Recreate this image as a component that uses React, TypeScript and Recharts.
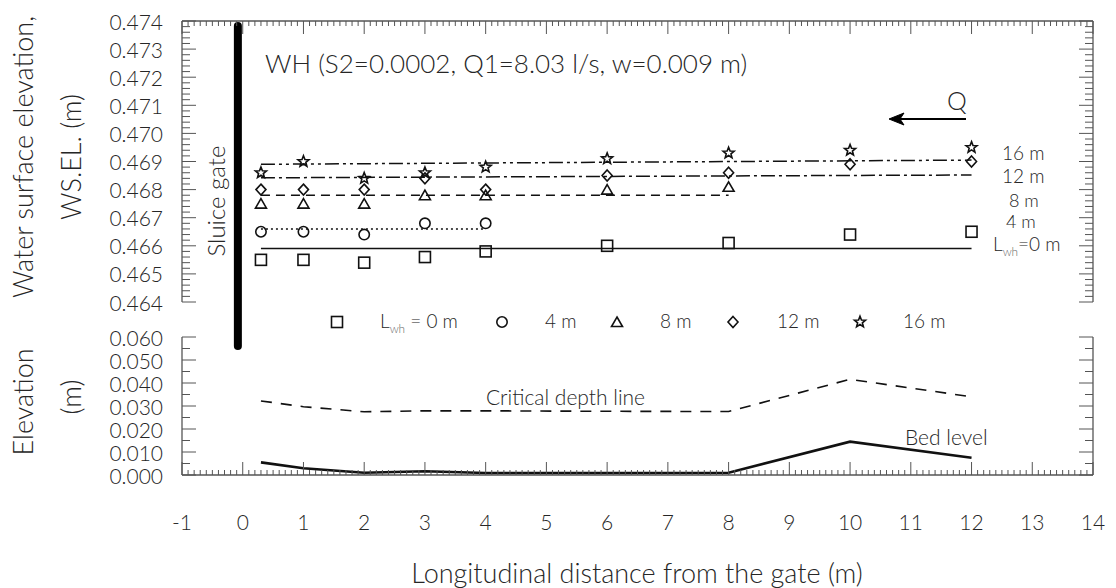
import React from "react";
import { ComposedChart, Scatter, Line, XAxis, YAxis, ReferenceLine } from "recharts";

// stations along the channel (m from the gate)
const stations = [0.3, 1, 2, 3, 4, 6, 8, 10, 12];

// water surface elevation (m) for each Lwh
const wsL0 = [0.4655, 0.4655, 0.4654, 0.4656, 0.4658, 0.466, 0.4661, 0.4664, 0.4665];
const ws4 = [0.4665, 0.4665, 0.4664, 0.4668, 0.4668];
const ws8 = [0.4675, 0.4675, 0.4675, 0.4678, 0.4678, 0.468, 0.4681];
const ws12 = [0.468, 0.468, 0.468, 0.4684, 0.468, 0.4685, 0.4686, 0.4689, 0.469];
const ws16 = [0.4686, 0.469, 0.4684, 0.4686, 0.4688, 0.4691, 0.4693, 0.4694, 0.4695];

// average lines (start / end)
const fitX = [0.3, 12];
const fitX4 = [0.3, 4];
const fitX8 = [0.3, 8];
const fitL0 = [0.4659, 0.4659];
const fit4 = [0.4666, 0.4666];
const fit8 = [0.4678, 0.4678];
const fit12 = [0.46842, 0.46852];
const fit16 = [0.4689, 0.46905];

// lower panel (m)
const criticalDepth = [0.0322, 0.0297, 0.0275, 0.0279, 0.0279, 0.0277, 0.0276, 0.0416, 0.034];
const bedLevel = [0.0055, 0.0029, 0.001, 0.0016, 0.0009, 0.0009, 0.001, 0.0145, 0.0075];

// sluice gate position
const gateX = -0.08;
const gateTop = 0.47382;
const gateBottom = 0.46243;

const xDomain: [number, number] = [-1, 14];
const wsDomain: [number, number] = [0.464, 0.474];
const elDomain: [number, number] = [0, 0.06];

const xTicks = Array.from({ length: 151 }, (_, i) => Math.round((-1 + i * 0.1) * 10) / 10);
const wsTicks = Array.from({ length: 51 }, (_, i) => Math.round((0.464 + i * 0.0002) * 1e4) / 1e4);
const elTicks = Array.from({ length: 13 }, (_, i) => Math.round(i * 5) / 1000);

const W = 1116;
const H = 588;
const PLOT_L = 182;
const PLOT_R = 1093;
const TOP_T = 21;
const TOP_B = 302;
const BOT_T = 337;
const BOT_B = 475;

const AXIS = "#555";
const INK = "#111";
const TEXT = "#262626";
const FONT = "Lato, 'Open Sans', sans-serif";
const WEIGHT = 300;

const pts = (xs: number[], ys: number[]) => ys.map((y, i) => ({ x: xs[i], y }));

type Kind = "square" | "circle" | "triangle" | "diamond" | "star";

function Marker({ kind, cx, cy }: { kind: Kind; cx: number; cy: number }) {
  const p = { fill: "none", stroke: INK, strokeWidth: 1.6 };
  if (kind === "square") return <rect x={cx - 5.5} y={cy - 5.5} width={11} height={11} {...p} />;
  if (kind === "circle") return <circle cx={cx} cy={cy} r={5.2} {...p} />;
  if (kind === "triangle")
    return <path d={`M${cx},${cy - 5} L${cx + 5.5},${cy + 4.5} L${cx - 5.5},${cy + 4.5} Z`} {...p} />;
  if (kind === "diamond")
    return <path d={`M${cx},${cy - 5.5} L${cx + 5},${cy} L${cx},${cy + 5.5} L${cx - 5},${cy} Z`} {...p} />;
  let d = "";
  for (let i = 0; i < 10; i++) {
    const r = i % 2 === 0 ? 5.8 : 2.5;
    const a = -Math.PI / 2 + (i * Math.PI) / 5;
    d += `${i === 0 ? "M" : "L"}${cx + r * Math.cos(a)},${cy + r * Math.sin(a)} `;
  }
  return <path d={d + "Z"} {...p} />;
}

const series: { kind: Kind; ys: number[] }[] = [
  { kind: "square", ys: wsL0 },
  { kind: "circle", ys: ws4 },
  { kind: "triangle", ys: ws8 },
  { kind: "diamond", ys: ws12 },
  { kind: "star", ys: ws16 },
];

const tickText = { fontSize: 21, fill: TEXT, fontFamily: FONT, fontWeight: WEIGHT };

function XTopTick(props: any) {
  const { x, y, payload } = props;
  const major = Math.round(payload.value * 10) % 10 === 0;
  return <line x1={x} y1={y} x2={x} y2={y + (major ? 13 : 5)} stroke={AXIS} />;
}

function XBottomTick(props: any) {
  const { x, y, payload } = props;
  const major = Math.round(payload.value * 10) % 10 === 0;
  return (
    <g>
      <line x1={x} y1={y} x2={x} y2={y - (major ? 13 : 5)} stroke={AXIS} />
      {major && (
        <text x={x} y={y + 46} textAnchor="middle" dominantBaseline="central" {...tickText}>
          {Math.round(payload.value)}
        </text>
      )}
    </g>
  );
}

function makeYTick(side: "l" | "r", step: number, label: boolean) {
  return (props: any) => {
    const { x, y, payload } = props;
    const major = Math.round(payload.value / step) % 10 === 0;
    const len = major ? 14 : 8;
    const dir = side === "l" ? 1 : -1;
    return (
      <g>
        <line x1={x} y1={y} x2={x + dir * len} y2={y} stroke={AXIS} />
        {label && major && (
          <text x={x - 19} y={y} textAnchor="end" dominantBaseline="central" {...tickText}>
            {payload.value.toFixed(3)}
          </text>
        )}
      </g>
    );
  };
}

const axisLine = { stroke: AXIS, strokeWidth: 1.3 };

function TopPanel() {
  const fits = [
    { xs: fitX, ys: fitL0, dash: undefined },
    { xs: fitX4, ys: fit4, dash: "2 3" },
    { xs: fitX8, ys: fit8, dash: "9 6" },
    { xs: fitX, ys: fit12, dash: "14 4 3 4" },
    { xs: fitX, ys: fit16, dash: "14 4 3 4 3 4" },
  ];
  return (
    <ComposedChart width={W} height={H} margin={{ top: 0, left: 0, right: 0, bottom: H - TOP_B }}>
      <XAxis
        xAxisId="t"
        orientation="top"
        type="number"
        dataKey="x"
        domain={xDomain}
        ticks={xTicks}
        interval={0}
        height={TOP_T}
        tickSize={0}
        tickMargin={0}
        tickLine={false}
        tick={XTopTick}
        axisLine={axisLine}
        allowDataOverflow
      />
      <YAxis
        yAxisId="l"
        type="number"
        domain={wsDomain}
        ticks={wsTicks}
        interval={0}
        width={PLOT_L}
        tickSize={0}
        tickMargin={0}
        tickLine={false}
        tick={makeYTick("l", 0.0001, true)}
        axisLine={axisLine}
        allowDataOverflow
      />
      <YAxis
        yAxisId="r"
        orientation="right"
        type="number"
        domain={wsDomain}
        ticks={wsTicks}
        interval={0}
        width={W - PLOT_R}
        tickSize={0}
        tickMargin={0}
        tickLine={false}
        tick={makeYTick("r", 0.0001, false)}
        axisLine={axisLine}
        allowDataOverflow
      />
      {fits.map((f, i) => (
        <Line
          key={"f" + i}
          xAxisId="t"
          yAxisId="l"
          data={pts(f.xs, f.ys)}
          dataKey="y"
          stroke={INK}
          strokeWidth={1.5}
          strokeDasharray={f.dash}
          dot={false}
          activeDot={false}
          isAnimationActive={false}
        />
      ))}
      {series.map((s) => (
        <Scatter
          key={s.kind}
          xAxisId="t"
          yAxisId="l"
          data={pts(stations, s.ys)}
          dataKey="y"
          isAnimationActive={false}
          shape={(p: any) => <Marker kind={s.kind} cx={p.cx} cy={p.cy} />}
        />
      ))}
      <ReferenceLine
        xAxisId="t"
        yAxisId="l"
        segment={[
          { x: gateX, y: gateTop },
          { x: gateX, y: gateBottom },
        ]}
        stroke="#000"
        strokeWidth={8}
        strokeLinecap="round"
        ifOverflow="visible"
      />
    </ComposedChart>
  );
}

function BottomPanel() {
  return (
    <ComposedChart width={W} height={H} margin={{ top: BOT_T, left: 0, right: 0, bottom: 0 }}>
      <XAxis
        type="number"
        dataKey="x"
        domain={xDomain}
        ticks={xTicks}
        interval={0}
        height={H - BOT_B}
        tickSize={0}
        tickMargin={0}
        tickLine={false}
        tick={XBottomTick}
        axisLine={axisLine}
        allowDataOverflow
      />
      <YAxis
        yAxisId="l"
        type="number"
        domain={elDomain}
        ticks={elTicks}
        interval={0}
        width={PLOT_L}
        tickSize={0}
        tickMargin={0}
        tickLine={false}
        tick={makeYTick("l", 0.001, true)}
        axisLine={axisLine}
        allowDataOverflow
      />
      <YAxis
        yAxisId="r"
        orientation="right"
        type="number"
        domain={elDomain}
        ticks={elTicks}
        interval={0}
        width={W - PLOT_R}
        tickSize={0}
        tickMargin={0}
        tickLine={false}
        tick={makeYTick("r", 0.001, false)}
        axisLine={axisLine}
        allowDataOverflow
      />
      <Line
        yAxisId="l"
        data={pts(stations, criticalDepth)}
        dataKey="y"
        stroke={INK}
        strokeWidth={1.6}
        strokeDasharray="11 9"
        dot={false}
        activeDot={false}
        isAnimationActive={false}
      />
      <Line
        yAxisId="l"
        data={pts(stations, bedLevel)}
        dataKey="y"
        stroke={INK}
        strokeWidth={2.6}
        dot={false}
        activeDot={false}
        isAnimationActive={false}
      />
    </ComposedChart>
  );
}

function Lwh({ x, y, size, eq }: { x: number; y: number; size: number; eq: string }) {
  return (
    <text x={x} y={y} fontSize={size} fill={TEXT} fontFamily={FONT} fontWeight={WEIGHT}>
      L
      <tspan fontSize={size * 0.62} dy={5} fill="#666">
        wh
      </tspan>
      <tspan dy={-5}>{eq}</tspan>
    </text>
  );
}

function Overlay() {
  const t = { fill: TEXT, fontFamily: FONT, fontWeight: WEIGHT };
  const legend: { kind: Kind; sx: number; tx: number; label?: string }[] = [
    { kind: "square", sx: 337, tx: 380 },
    { kind: "circle", sx: 502, tx: 545, label: "4 m" },
    { kind: "triangle", sx: 617, tx: 660, label: "8 m" },
    { kind: "diamond", sx: 733, tx: 777, label: "12 m" },
    { kind: "star", sx: 860, tx: 903, label: "16 m" },
  ];
  return (
    <svg width={W} height={H} style={{ position: "absolute", left: 0, top: 0, pointerEvents: "none" }}>
      <text x={265} y={73} fontSize={26} {...t}>
        WH (S2=0.0002, Q1=8.03 l/s, w=0.009 m)
      </text>
      <text x={957} y={110} fontSize={25} textAnchor="middle" {...t}>
        Q
      </text>
      <line x1={966} y1={119} x2={898} y2={119} stroke="#000" strokeWidth={2} />
      <path d="M889,119 L904,113 L900,119 L904,125 Z" fill="#000" stroke="#000" strokeWidth={1} />

      <text x={1002} y={160} fontSize={19} {...t}>16 m</text>
      <text x={1002} y={183} fontSize={19} {...t}>12 m</text>
      <text x={1009} y={207} fontSize={18} {...t}>8 m</text>
      <text x={1006} y={228} fontSize={18} {...t}>4 m</text>
      <Lwh x={993} y={251} size={19} eq="=0 m" />

      <text transform="translate(215,201) rotate(-90)" textAnchor="middle" dominantBaseline="central" fontSize={24} {...t}>
        Sluice gate
      </text>

      {legend.map((l) => (
        <g key={l.kind}>
          <Marker kind={l.kind} cx={l.sx} cy={322} />
          {l.label ? (
            <text x={l.tx} y={328} fontSize={19} {...t}>
              {l.label}
            </text>
          ) : (
            <Lwh x={l.tx} y={328} size={19} eq=" = 0 m" />
          )}
        </g>
      ))}

      <text x={486} y={405} fontSize={21} {...t}>Critical depth line</text>
      <text x={905} y={445} fontSize={21} {...t}>Bed level</text>

      <text transform="translate(22,157) rotate(-90)" textAnchor="middle" dominantBaseline="central" fontSize={27} {...t}>
        Water surface elevation,
      </text>
      <text transform="translate(70,157) rotate(-90)" textAnchor="middle" dominantBaseline="central" fontSize={27} {...t}>
        WS.EL. (m)
      </text>
      <text transform="translate(22,402) rotate(-90)" textAnchor="middle" dominantBaseline="central" fontSize={27} {...t}>
        Elevation
      </text>
      <text transform="translate(70,397) rotate(-90)" textAnchor="middle" dominantBaseline="central" fontSize={27} {...t}>
        (m)
      </text>
      <text x={637} y={572} textAnchor="middle" dominantBaseline="central" fontSize={27} {...t}>
        Longitudinal distance from the gate (m)
      </text>
    </svg>
  );
}

export default function App() {
  return (
    <div style={{ position: "absolute", left: 0, top: 0, width: W, height: H, background: "#fff", fontFamily: FONT }}>
      <div style={{ position: "absolute", left: 0, top: 0 }}>
        <BottomPanel />
      </div>
      <div style={{ position: "absolute", left: 0, top: 0 }}>
        <TopPanel />
      </div>
      <Overlay />
    </div>
  );
}
